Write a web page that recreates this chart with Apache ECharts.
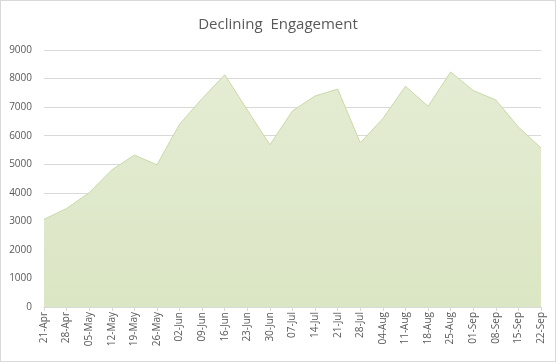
<!DOCTYPE html>
<html><head><meta charset="utf-8">
<script src="https://cdn.jsdelivr.net/npm/echarts@6/dist/echarts.min.js"></script>
<style>
html,body{margin:0;padding:0;background:#fff;}
#c{width:554px;height:360px;border:1px solid #d9d9d9;}
</style></head>
<body><div id="c"></div>
<script>
const categories = ['21-Apr','28-Apr','05-May','12-May','19-May','26-May','02-Jun','09-Jun','16-Jun','23-Jun','30-Jun','07-Jul','14-Jul','21-Jul','28-Jul','04-Aug','11-Aug','18-Aug','25-Aug','01-Sep','08-Sep','15-Sep','22-Sep'];
const engagement = [3070,3450,4000,4800,5320,4980,6400,7300,8130,6900,5680,6870,7390,7630,5750,6600,7730,7030,8230,7580,7250,6300,5570];
const yTicks = {min:0, max:9000, interval:1000};

const chart = echarts.init(document.getElementById('c'), null, {renderer:'canvas'});
chart.setOption({
  animation:false,
  title:{text:'Declining  Engagement', left:'center', top:11,
    textStyle:{fontFamily:'Open Sans', fontSize:15, fontWeight:'normal', color:'#595959'}},
  grid:{left:43, right:14, top:49, bottom:54},
  xAxis:{type:'category', data:categories, boundaryGap:false,
    axisLine:{lineStyle:{color:'#d9d9d9'}},
    axisTick:{show:true, alignWithLabel:true, length:4, lineStyle:{color:'#d9d9d9'}},
    axisLabel:{rotate:90, interval:0, color:'#595959', fontFamily:'Open Sans', fontSize:10, margin:5},
    splitLine:{show:false}},
  yAxis:{type:'value', min:yTicks.min, max:yTicks.max, interval:yTicks.interval,
    axisLine:{show:false}, axisTick:{show:false},
    axisLabel:{color:'#595959', fontFamily:'Open Sans', fontSize:10, margin:12, formatter:function(v){return String(v);}},
    splitLine:{lineStyle:{color:'#d9d9d9'}}},
  series:[{type:'line', data:engagement, symbol:'none',
    lineStyle:{color:'#c9d9a8', width:1},
    areaStyle:{opacity:1, color:new echarts.graphic.LinearGradient(0,0,0,1,[
      {offset:0,color:'#e4ecd3'},{offset:1,color:'#dbe6c4'}])}}]
});
</script></body></html>
